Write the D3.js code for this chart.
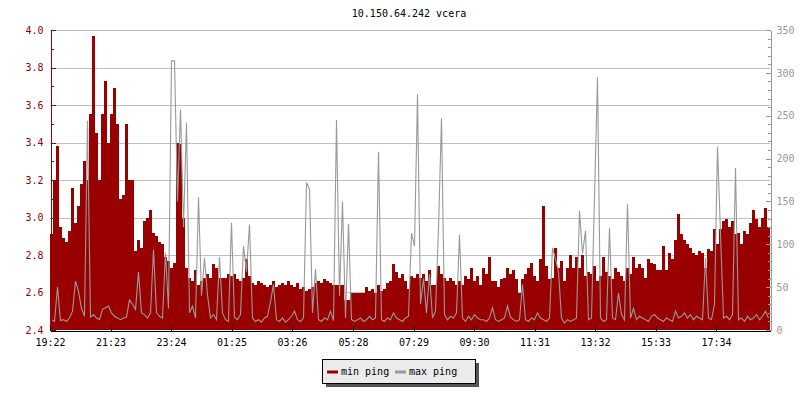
<!DOCTYPE html>
<html>
<head>
<meta charset="utf-8">
<script src="https://cdn.jsdelivr.net/npm/d3@7"></script>
<style>
  body { margin: 0; background: #fff; }
  svg text { font-family: "DejaVu Sans Mono", monospace; }
</style>
</head>
<body>
<div id="graphic"></div>
<script>
// Chart data, one sample every 6 minutes starting 19:22
const title = "10.150.64.242 vcera";
const startTime = "19:22";
const stepMinutes = 6;
const tickLabels = ["19:22", "21:23", "23:24", "01:25", "03:26", "05:28", "07:29", "09:30", "11:31", "13:32", "15:33", "17:34"];
const leftTicks = [2.4, 2.6, 2.8, 3.0, 3.2, 3.4, 3.6, 3.8, 4.0];
const rightTicks = [0, 50, 100, 150, 200, 250, 300, 350];
const seriesNames = ["min ping", "max ping"];

// min ping (left axis)
const minPing = [
  2.91, 3.20, 3.38, 2.95, 2.89, 2.87, 2.93, 3.16, 2.97, 3.06, 3.18, 3.30, 3.20, 3.55, 3.97, 3.45,
  3.20, 3.55, 3.73, 3.40, 3.55, 3.69, 3.50, 3.10, 3.12, 3.50, 3.20, 3.20, 2.82, 2.88, 2.84, 2.98,
  3.00, 3.04, 2.92, 2.90, 2.87, 2.86, 2.79, 2.77, 2.73, 2.76, 3.40, 3.39, 3.00, 2.73, 2.68, 2.66,
  2.72, 2.64, 2.66, 2.68, 2.70, 2.68, 2.75, 2.73, 2.68, 2.68, 2.68, 2.70, 2.69, 2.70, 2.67, 2.66,
  2.68, 2.78, 2.69, 2.65, 2.64, 2.66, 2.65, 2.64, 2.63, 2.64, 2.66, 2.63, 2.64, 2.65, 2.64, 2.66,
  2.64, 2.63, 2.65, 2.62, 2.63, 2.61, 2.62, 2.63, 2.65, 2.66, 2.65, 2.67, 2.66, 2.65, 2.64, 2.64,
  2.64, 2.64, 2.56, 2.56, 2.60, 2.60, 2.60, 2.60, 2.60, 2.63, 2.61, 2.62, 2.60, 2.64, 2.61, 2.62,
  2.65, 2.66, 2.75, 2.71, 2.68, 2.70, 2.66, 2.62, 2.69, 2.68, 2.70, 2.68, 2.70, 2.66, 2.72, 2.64,
  2.64, 2.74, 2.70, 2.68, 2.66, 2.68, 2.66, 2.64, 2.66, 2.64, 2.69, 2.67, 2.73, 2.66, 2.69, 2.64,
  2.73, 2.70, 2.79, 2.66, 2.66, 2.63, 2.67, 2.68, 2.73, 2.70, 2.72, 2.67, 2.60, 2.67, 2.70, 2.73,
  2.76, 2.69, 2.66, 2.78, 3.06, 2.74, 2.67, 2.68, 2.84, 2.73, 2.77, 2.66, 2.73, 2.80, 2.73, 2.79,
  2.73, 2.80, 2.69, 2.71, 2.70, 2.74, 2.66, 2.69, 2.79, 2.71, 2.69, 2.67, 2.73, 2.71, 2.69, 2.66,
  2.73, 2.70, 2.79, 2.73, 2.75, 2.73, 2.68, 2.78, 2.76, 2.75, 2.72, 2.72, 2.85, 2.72, 2.81, 2.78,
  2.88, 3.02, 2.91, 2.88, 2.86, 2.84, 2.81, 2.80, 2.82, 2.81, 2.73, 2.83, 2.82, 2.94, 2.86, 2.94,
  2.98, 2.99, 2.95, 2.98, 2.91, 2.92, 2.86, 2.93, 2.91, 2.97, 3.04, 2.99, 2.95, 3.00, 3.05, 2.95
];

// max ping (right axis)
const maxPing = [
  12, 10, 50, 11, 12, 10, 14, 22, 57, 45, 25, 16, 244, 15, 18, 14,
  12, 24, 26, 28, 20, 16, 14, 12, 14, 15, 35, 30, 24, 68, 20, 18,
  14, 20, 94, 20, 16, 14, 90, 25, 314, 314, 150, 257, 120, 242, 20, 28,
  14, 155, 40, 84, 41, 14, 18, 12, 85, 20, 12, 10, 125, 15, 12, 18,
  98, 68, 123, 14, 10, 12, 9, 14, 16, 33, 53, 12, 10, 14, 9, 12,
  16, 22, 12, 10, 14, 172, 164, 20, 71, 12, 10, 14, 12, 22, 11, 245,
  40, 150, 14, 124, 12, 10, 12, 14, 10, 12, 16, 12, 14, 208, 12, 10,
  14, 12, 20, 14, 12, 10, 14, 16, 113, 98, 275, 30, 60, 20, 65, 14,
  22, 118, 247, 18, 12, 16, 14, 20, 111, 14, 10, 16, 12, 18, 14, 12,
  12, 10, 14, 26, 12, 10, 12, 14, 28, 15, 12, 10, 12, 53, 12, 10,
  14, 12, 20, 14, 12, 10, 14, 96, 83, 68, 14, 8, 12, 10, 12, 14,
  139, 89, 116, 12, 14, 155, 295, 14, 10, 12, 119, 14, 12, 43, 18, 12,
  147, 14, 25, 12, 16, 14, 12, 10, 16, 18, 14, 12, 10, 14, 12, 10,
  22, 14, 16, 20, 14, 18, 12, 16, 14, 12, 84, 14, 12, 30, 214, 113,
  14, 16, 12, 18, 189, 12, 14, 10, 16, 12, 14, 18, 12, 16, 22, 14
];

const width = 800;
const height = 400;
const margin = { top: 30, right: 30, bottom: 70, left: 50 };
const red = "#990000";
const grey = "#999999";

// turn "HH:MM" into a date on the day after the start when needed
const base = new Date(2024, 0, 1);
function toDate(label) {
    const [sh, sm] = startTime.split(":").map(Number);
    const [h, m] = label.split(":").map(Number);
    let mins = h * 60 + m;
    if (mins < sh * 60 + sm) mins += 1440;
    return new Date(base.getTime() + mins * 60000);
}
const t0 = toDate(startTime);
const times = minPing.map((d, i) => new Date(t0.getTime() + i * stepMinutes * 60000));
const tEnd = new Date(t0.getTime() + minPing.length * stepMinutes * 60000);
const half = stepMinutes * 30000; // half a sample, in ms

const svg = d3.select("#graphic")
    .append("svg")
    .attr("width", width)
    .attr("height", height);

const x = d3.scaleTime()
    .domain([t0, tEnd])
    .range([margin.left, width - margin.right]);

const yLeft = d3.scaleLinear()
    .domain([2.4, 4.0])
    .range([height - margin.bottom, margin.top]);

const yRight = d3.scaleLinear()
    .domain([0, 350])
    .range([height - margin.bottom, margin.top]);

// Title
svg.append("text")
    .attr("x", 409)
    .attr("y", 17)
    .attr("text-anchor", "middle")
    .attr("font-size", 10)
    .attr("fill", "#000")
    .text(title);

// Grid lines
svg.append("g")
    .selectAll("line")
    .data(leftTicks.slice(1))
    .enter()
    .append("line")
    .attr("x1", margin.left)
    .attr("x2", width - margin.right)
    .attr("y1", d => Math.round(yLeft(d)) + 0.5)
    .attr("y2", d => Math.round(yLeft(d)) + 0.5)
    .attr("stroke", "#c0c0c0")
    .attr("shape-rendering", "crispEdges");

// min ping area
svg.append("path")
    .datum(minPing.concat([minPing[minPing.length - 1]]))
    .attr("d", d3.area()
        .x((d, i) => x(i < times.length ? times[i] : tEnd))
        .y0(yLeft(2.4))
        .y1(d => yLeft(d))
        .curve(d3.curveStepAfter))
    .attr("fill", red)
    .attr("shape-rendering", "crispEdges");

// max ping line, through the middle of each sample
svg.append("path")
    .datum(maxPing)
    .attr("d", d3.line()
        .x((d, i) => x(new Date(times[i].getTime() + half)))
        .y(d => yRight(d)))
    .attr("fill", "none")
    .attr("stroke", grey)
    .attr("stroke-width", 1.1)
    .attr("stroke-linejoin", "miter");

// Left axis (minor then major)
const minorLeft = d3.range(24, 41).map(v => v / 10);
svg.append("g")
    .attr("transform", "translate(" + (margin.left + 0.5) + ",0)")
    .call(d3.axisLeft(yLeft).tickValues(minorLeft).tickSize(-3).tickFormat(""))
    .call(g => g.select(".domain").remove())
    .call(g => g.selectAll("line").attr("stroke", red).attr("shape-rendering", "crispEdges"));

const leftAxis = svg.append("g")
    .attr("transform", "translate(" + (margin.left + 0.5) + ",0)")
    .call(d3.axisLeft(yLeft).tickValues(leftTicks).tickSize(-5).tickSizeOuter(0).tickPadding(7).tickFormat(d3.format(".1f")));
leftAxis.selectAll("line").attr("stroke", red).attr("shape-rendering", "crispEdges");
leftAxis.select(".domain").attr("stroke", red).attr("shape-rendering", "crispEdges");
leftAxis.selectAll("text").attr("fill", red).attr("font-size", 10).attr("font-family", "DejaVu Sans Mono");

// Right axis (minor then major)
const minorRight = d3.range(0, 351, 10);
svg.append("g")
    .attr("transform", "translate(" + (width - margin.right + 0.5) + ",0)")
    .call(d3.axisRight(yRight).tickValues(minorRight).tickSize(-3).tickFormat(""))
    .call(g => g.select(".domain").remove())
    .call(g => g.selectAll("line").attr("stroke", grey).attr("shape-rendering", "crispEdges"));

const rightAxis = svg.append("g")
    .attr("transform", "translate(" + (width - margin.right + 0.5) + ",0)")
    .call(d3.axisRight(yRight).tickValues(rightTicks).tickSize(-5).tickSizeOuter(0).tickPadding(6));
rightAxis.selectAll("line").attr("stroke", grey).attr("shape-rendering", "crispEdges");
rightAxis.select(".domain").attr("stroke", grey).attr("shape-rendering", "crispEdges");
rightAxis.selectAll("text").attr("fill", grey).attr("font-size", 10).attr("font-family", "DejaVu Sans");

// Bottom axis
const bottomAxis = svg.append("g")
    .attr("transform", "translate(0," + (height - margin.bottom + 0.5) + ")")
    .call(d3.axisBottom(x).tickValues(tickLabels.map(toDate)).tickSize(-5).tickSizeOuter(0).tickPadding(8)
        .tickFormat(d3.timeFormat("%H:%M")));
bottomAxis.selectAll("line").attr("stroke", "#000").attr("shape-rendering", "crispEdges");
bottomAxis.select(".domain").attr("stroke", "#000").attr("shape-rendering", "crispEdges");
bottomAxis.selectAll("text").attr("fill", "#000").attr("font-size", 10).attr("font-family", "DejaVu Sans Mono");

// Legend
const legend = svg.append("g").attr("transform", "translate(322,359)");
legend.append("rect")
    .attr("x", 4).attr("y", 4).attr("width", 153).attr("height", 24)
    .attr("fill", "#555");
legend.append("rect")
    .attr("x", 0.5).attr("y", 0.5).attr("width", 153).attr("height", 24)
    .attr("fill", "#ebebeb").attr("stroke", "#000")
    .attr("shape-rendering", "crispEdges");
const items = [
    { name: seriesNames[0], color: red, x: 5 },
    { name: seriesNames[1], color: grey, x: 73 }
];
items.forEach(it => {
    legend.append("line")
        .attr("x1", it.x).attr("x2", it.x + 11)
        .attr("y1", 13).attr("y2", 13)
        .attr("stroke", it.color).attr("stroke-width", 3);
    legend.append("text")
        .attr("x", it.x + 14).attr("y", 16)
        .attr("font-size", 10)
        .attr("fill", "#000")
        .text(it.name);
});
</script>
</body>
</html>
